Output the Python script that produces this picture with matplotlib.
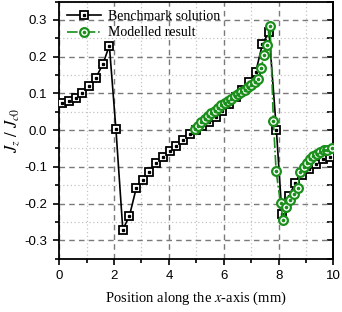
import numpy as np
import matplotlib
matplotlib.use("Agg")
import matplotlib.pyplot as plt
from matplotlib.ticker import MultipleLocator
from matplotlib.legend_handler import HandlerTuple

# -------------------------------
# Data
# -------------------------------
bench_x = [0.12, 0.37, 0.61, 0.85, 1.10, 1.34, 1.59, 1.83, 2.07, 2.32,
           2.56, 2.81, 3.05, 3.29, 3.54, 3.78, 4.03, 4.27, 4.51, 4.76,
           5.00, 5.21, 5.46, 5.70, 5.95, 6.19, 6.44, 6.68, 6.93, 7.17,
           7.41, 7.65, 7.92, 8.12, 8.37, 8.61, 8.87, 9.12, 9.37, 9.61,
           9.86]
bench_y = [0.074, 0.080, 0.088, 0.102, 0.120, 0.143, 0.179, 0.230, 0.002, -0.271,
           -0.234, -0.158, -0.135, -0.113, -0.090, -0.074, -0.056, -0.043, -0.027, -0.011,
           0.000, 0.011, 0.023, 0.036, 0.052, 0.071, 0.091, 0.109, 0.132, 0.159,
           0.234, 0.268, 0.000, -0.228, -0.180, -0.145, -0.122, -0.106, -0.092, -0.080,
           -0.074]

model_x = [4.94, 5.06, 5.18, 5.30, 5.43, 5.55, 5.67, 5.79, 5.91, 6.03,
           6.16, 6.28, 6.40, 6.52, 6.64, 6.77, 6.89, 7.01, 7.13, 7.24,
           7.36, 7.47, 7.58, 7.69, 7.81, 7.91, 8.07, 8.17, 8.26, 8.42,
           8.57, 8.70, 8.78, 8.91, 9.03, 9.15, 9.27, 9.39, 9.51, 9.64,
           9.78, 9.94]
model_y = [0.002, 0.012, 0.021, 0.030, 0.038, 0.046, 0.053, 0.060, 0.067, 0.073,
           0.080, 0.086, 0.092, 0.098, 0.104, 0.110, 0.117, 0.124, 0.131, 0.139,
           0.168, 0.204, 0.232, 0.284, 0.025, -0.112, -0.199, -0.246, -0.210, -0.190,
           -0.175, -0.159, -0.114, -0.100, -0.089, -0.080, -0.071, -0.064, -0.059, -0.055,
           -0.053, -0.050]

black = "black"
green = "#1b8f1b"

plt.rcParams["mathtext.fontset"] = "stix"

# -------------------------------
# Figure
# -------------------------------
fig = plt.figure(figsize=(3.42, 3.12), dpi=100)
ax = fig.add_axes([0.173, 0.171, 0.802, 0.824])

l1, = ax.plot(bench_x, bench_y, color=black, lw=1.2, marker="s", ms=5.8,
              mfc="white", mec=black, mew=1.3, zorder=3)
d1, = ax.plot(bench_x, bench_y, ls="none", marker="s", ms=1.4,
              color=black, zorder=3.1)
l2, = ax.plot(model_x, model_y, color=green, lw=1.2, ls="-.", marker="o", ms=6.3,
              mfc="white", mec=green, mew=1.6, zorder=4)
d2, = ax.plot(model_x, model_y, ls="none", marker="o", ms=1.6,
              color=green, zorder=4.1)

ax.set_xlim(0, 10)
ax.set_ylim(-0.35, 0.35)
ax.xaxis.set_major_locator(MultipleLocator(2))
ax.xaxis.set_minor_locator(MultipleLocator(1))
ax.yaxis.set_major_locator(MultipleLocator(0.1))
ax.yaxis.set_minor_locator(MultipleLocator(0.05))
ax.yaxis.set_major_formatter(plt.FuncFormatter(lambda v, p: f"{v:.1f}"))

ax.grid(True, which="major", color="#7a7a7a", ls=(0, (4, 3)), lw=1.0)
ax.grid(True, which="minor", color="#c4c4c4", ls=(0, (1, 2)), lw=0.9)
ax.set_axisbelow(True)

for s in ax.spines.values():
    s.set_linewidth(1.3)

ax.tick_params(which="both", direction="out", width=1.2, labelsize=9.5,
               labelfontfamily="Liberation Sans", pad=4)
ax.tick_params(which="major", length=4.5)
ax.tick_params(which="minor", length=3)

# inward ticks on the right side
rax = ax.secondary_yaxis("right")
rax.yaxis.set_major_locator(MultipleLocator(0.05))
rax.tick_params(direction="in", length=4, width=1.2, labelright=False)
rax.spines["right"].set_linewidth(1.3)

ax.set_xlabel("Position along the $x$-axis (mm)", family="Liberation Serif",
              fontsize=10.5, labelpad=5)
ax.set_ylabel(r"$J_z\ /\ J_{c0}$", fontsize=12, labelpad=2)

leg = ax.legend([(l1, d1), (l2, d2)], ["Benchmark solution", "Modelled result"],
                handler_map={tuple: HandlerTuple(ndivide=1)},
                loc="upper left", frameon=False, handlelength=2.4,
                prop={"family": "Liberation Serif", "size": 10},
                borderaxespad=0.2, labelspacing=0.25, handletextpad=0.5)

fig.savefig("out.png", dpi=100)
